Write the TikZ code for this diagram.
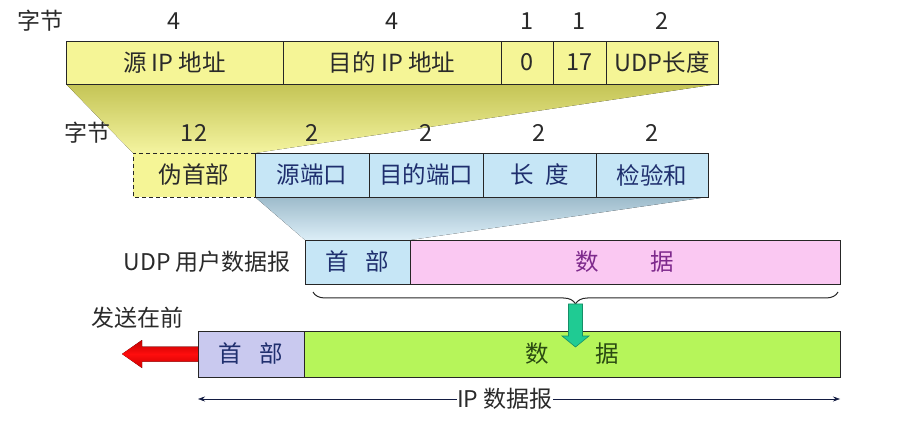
\documentclass[tikz,border=0pt]{standalone}
\usepackage{fontspec}
\setmainfont{Noto Sans CJK SC}
\usepackage{tikz}
\usetikzlibrary{arrows.meta,positioning,calc,decorations.pathreplacing,backgrounds}
\definecolor{ipyellow}{HTML}{F5F596}
\definecolor{fanyellow}{HTML}{C4C455}
\definecolor{fanyellowlt}{HTML}{F4F4A0}
\definecolor{udpblue}{HTML}{C6E6F6}
\definecolor{fanblue}{HTML}{9DBBCB}
\definecolor{fanbluelt}{HTML}{DCEEF7}
\definecolor{udppink}{HTML}{FAC8F2}
\definecolor{hdrlav}{HTML}{C9C9EF}
\definecolor{datagreen}{HTML}{B6F55A}
\definecolor{navytext}{HTML}{1F2F6E}
\definecolor{purpletext}{HTML}{7E2A8C}
\definecolor{greentext}{HTML}{2A4A12}
\definecolor{greytext}{HTML}{2A2A2A}
\definecolor{fatgreen}{HTML}{1FCB93}

\begin{document}
\begin{tikzpicture}[
    x=1pt,y=-1pt,
    node distance=0pt,
    field/.style={draw=black!85,line width=0.9pt,inner sep=0pt,outer sep=0pt,
      minimum height=#1,font=\fontsize{23.5}{28}\selectfont},
    ipfield/.style={field=43pt,fill=ipyellow,text=greytext},
    udpfield/.style={field=44pt,fill=udpblue,text=navytext},
    num/.style={font=\fontsize{23.5}{28}\selectfont,text=greytext,inner sep=0pt},
    caption/.style={font=\fontsize{23}{28}\selectfont,text=greytext,inner sep=0pt},
    span/.style={{Stealth[length=7pt,width=5pt]}-{Stealth[length=7pt,width=5pt]},
      navytext!60!black,line width=0.6pt}
]
\useasboundingbox (0,0) rectangle (912,427);

% IP pseudo header fields
\node[ipfield,minimum width=217pt,anchor=north west] (ipsrc) at (66,41) {源 IP 地址};
\node[ipfield,minimum width=218pt,right=of ipsrc] (ipdst) {目的 IP 地址};
\node[ipfield,minimum width=52pt,right=of ipdst] (ipzero) {0};
\node[ipfield,minimum width=53pt,right=of ipzero] (ipproto) {17};
\node[ipfield,minimum width=112pt,right=of ipproto] (iplen) {UDP长度};

% UDP header fields
\node[udpfield,minimum width=122pt,anchor=north west,fill=ipyellow,draw=none,text=greytext] (psd) at (133,153) {伪首部};
\draw[dashed,line width=0.9pt,black!85,dash pattern=on 4pt off 3pt]
  (psd.north east) -- (psd.north west) -- (psd.south west) -- (psd.south east);
\node[udpfield,minimum width=114pt,right=of psd] (srcport) {源端口};
\node[udpfield,minimum width=114pt,right=of srcport] (dstport) {目的端口};
\node[udpfield,minimum width=113pt,right=of dstport] (udplen) {长\hspace{0.5em}度};
\node[udpfield,minimum width=112pt,right=of udplen] (chk) {检验和};

% UDP datagram
\node[udpfield,minimum width=105pt,anchor=north west,line width=0.6pt] (udphdr) at (305,240) {首\hspace{0.7em}部};
\node[udpfield,minimum width=430pt,right=of udphdr,fill=udppink,text=purpletext,line width=0.6pt] (udpdata) {数\hspace{2.2em}据};

% IP datagram
\node[field=46pt,minimum width=106pt,anchor=north west,fill=hdrlav,text=navytext] (iphdr) at (198,331) {首\hspace{0.75em}部};
\node[field=46pt,minimum width=536pt,right=of iphdr,fill=datagreen,text=greentext] (ipdata) {数\hspace{2em}据};

% fans
\begin{scope}[on background layer]
\fill[top color=fanyellow,bottom color=fanyellowlt]
  (ipsrc.south west) -- (iplen.south east) -- (psd.north east) -- (psd.north west) -- cycle;
\fill[top color=fanblue,bottom color=fanbluelt]
  (srcport.south west) -- (chk.south east) -- (udphdr.north east) -- (udphdr.north west) -- cycle;
\end{scope}

% byte counts
\node[caption] (bytes1) at (40,21) {字节};
\node[num] at ([yshift=20pt]ipsrc.north) {4};
\node[num] at ([yshift=20pt]ipdst.north) {4};
\node[num] at ([yshift=20pt]ipzero.north) {1};
\node[num] at ([yshift=20pt]ipproto.north) {1};
\node[num] at ([yshift=20pt]iplen.north) {2};
\node[caption] (bytes2) at (87,133) {字节};
\node[num] at ([yshift=20pt]psd.north) {12};
\node[num] at ([yshift=20pt]srcport.north) {2};
\node[num] at ([yshift=20pt]dstport.north) {2};
\node[num] at ([yshift=20pt]udplen.north) {2};
\node[num] at ([yshift=20pt]chk.north) {2};

% captions
\node[caption,left=14pt of udphdr] (udpcap) {UDP 用户数据报};
\node[caption] (sendcap) at (137,318) {发送在前};

% brace and arrows
\draw[decorate,decoration={brace,mirror,amplitude=12pt},line width=1pt,black!85]
  ([xshift=8pt,yshift=-8pt]udphdr.south west) -- ([xshift=-2pt,yshift=-8pt]udpdata.south east)
  coordinate[midway,yshift=-12pt] (bracetip);
\fill[fatgreen,draw=fatgreen!70!black,line width=0.6pt]
  ($(bracetip)+(-7,0)$) -- ($(bracetip)+(7,0)$) -- ($(bracetip)+(7,32)$)
  -- ($(bracetip)+(13.5,32)$) -- ($(bracetip)+(0,43)$) -- ($(bracetip)+(-13.5,32)$)
  -- ($(bracetip)+(-7,32)$) -- cycle;
\fill[top color=red!75!black,bottom color=red!80!black,middle color=red!95!white]
  (iphdr.west) ++(0,-7.5) -- ++(-56,0) -- ++(0,-6.5) -- ++(-20,14) -- ++(20,14)
  -- ++(0,-6.5) -- ++(56,0) -- cycle;

% length of IP datagram
\draw[span] ([yshift=-22pt]iphdr.south west) -- node[pos=0.478,fill=white,inner xsep=10pt,caption]
  (ipcap) {IP 数据报} ([yshift=-22pt]ipdata.south east);
\end{tikzpicture}
\end{document}
